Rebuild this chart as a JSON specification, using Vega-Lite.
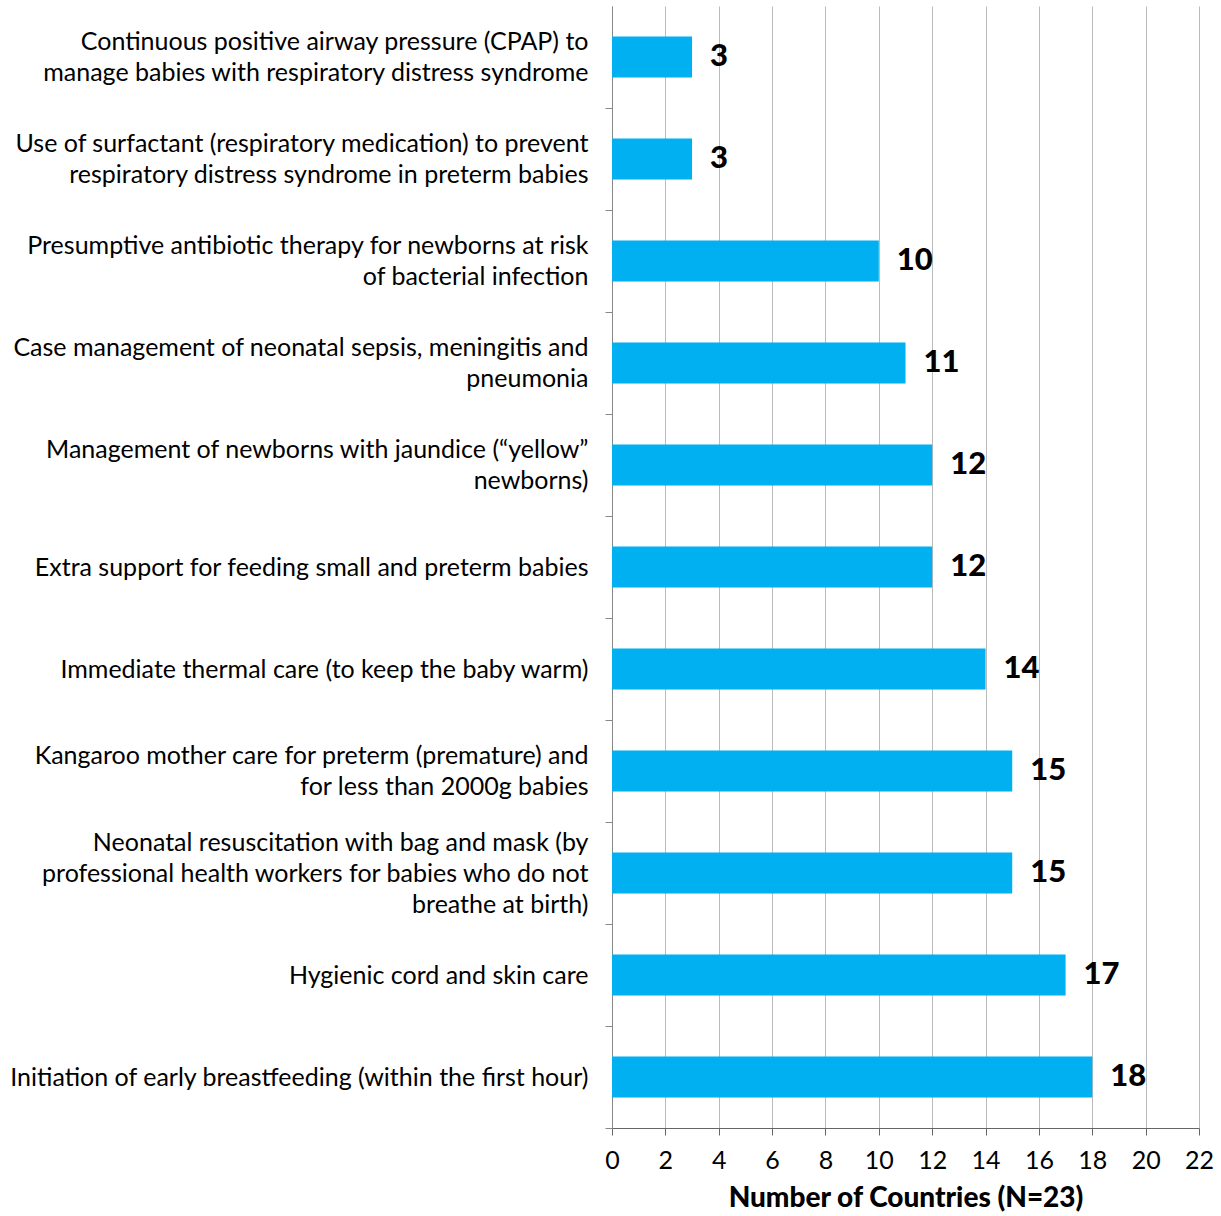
{
  "$schema": "https://vega.github.io/schema/vega-lite/v6.json",
  "autosize": {"type": "none"},
  "padding": {"left": 612, "top": 6, "right": 22, "bottom": 88},
  "width": 587,
  "height": 1122,
  "background": "white",
  "config": {"view": {"stroke": null}, "font": "Lato"},
  "data": {"values": [
    {"item": "Continuous positive airway pressure (CPAP) to|manage babies with respiratory distress syndrome", "countries": 3},
    {"item": "Use of surfactant (respiratory medication) to prevent|respiratory distress syndrome in preterm babies", "countries": 3},
    {"item": "Presumptive antibiotic therapy for newborns at risk|of bacterial infection", "countries": 10},
    {"item": "Case management of neonatal sepsis, meningitis and|pneumonia", "countries": 11},
    {"item": "Management of newborns with jaundice (“yellow”|newborns)", "countries": 12},
    {"item": "Extra support for feeding small and preterm babies", "countries": 12},
    {"item": "Immediate thermal care (to keep the baby warm)", "countries": 14},
    {"item": "Kangaroo mother care for preterm (premature) and|for less than 2000g babies", "countries": 15},
    {"item": "Neonatal resuscitation with bag and mask (by|professional health workers for babies who do not|breathe at birth)", "countries": 15},
    {"item": "Hygienic cord and skin care", "countries": 17},
    {"item": "Initiation of early breastfeeding (within the first hour)", "countries": 18}
  ]},
  "encoding": {
    "y": {
      "field": "item", "type": "nominal", "sort": null,
      "scale": {"paddingInner": 0.6, "paddingOuter": 0.3},
      "axis": {
        "title": null,
        "labelExpr": "split(datum.label, '|')",
        "labelFontSize": 25,
        "labelColor": "black",
        "labelLimit": 700,
        "labelLineHeight": 31,
        "labelPadding": 17,
        "bandPosition": 1,
        "tickExtra": false,
        "tickOffset": 30.6,
        "labelOffset": {
          "condition": [
            {"test": "length(split(datum.label, '|')) == 3", "value": -61.6},
            {"test": "length(split(datum.label, '|')) == 2", "value": -46.1}
          ],
          "value": -30.6
        },
        "tickSize": 7,
        "tickColor": "#888888",
        "domainColor": "#888888",
        "grid": false
      }
    },
    "x": {
      "field": "countries", "type": "quantitative",
      "scale": {"domain": [0, 22], "nice": false},
      "axis": {
        "title": "Number of Countries (N=23)",
        "titleFontSize": 28,
        "titleFontWeight": 900,
        "titleColor": "black",
        "titlePadding": 11,
        "values": [0, 2, 4, 6, 8, 10, 12, 14, 16, 18, 20, 22],
        "labelFontSize": 25,
        "labelColor": "black",
        "labelPadding": 13,
        "labelFlush": false,
        "tickSize": 7,
        "tickColor": "#666666",
        "domainColor": "#666666",
        "grid": true,
        "gridColor": "#BBBBBB",
        "gridWidth": 1
      }
    }
  },
  "layer": [
    {"mark": {"type": "bar", "color": "#00B0F0"}},
    {
      "mark": {"type": "text", "align": "left", "baseline": "middle", "dx": 18, "fontSize": 31, "fontWeight": 900, "color": "black"},
      "encoding": {"text": {"field": "countries", "type": "quantitative"}}
    }
  ]
}
